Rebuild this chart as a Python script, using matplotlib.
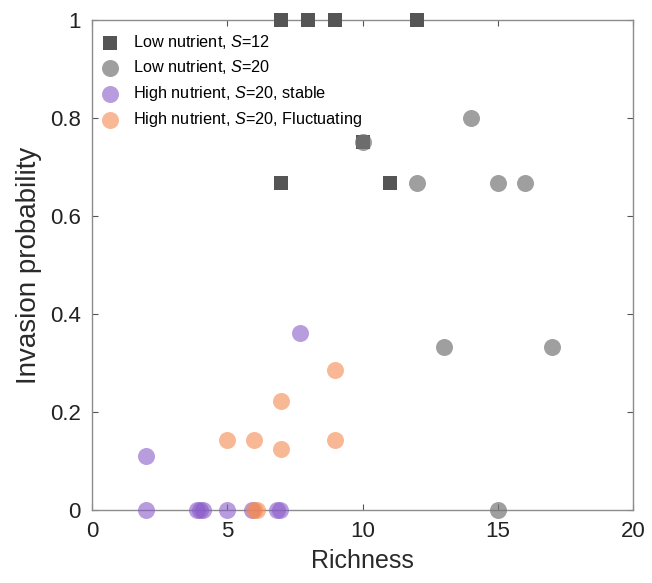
import matplotlib
matplotlib.use("Agg")
import matplotlib.pyplot as plt

plt.rcParams['font.family'] = ['Liberation Sans', 'DejaVu Sans']
plt.rcParams['mathtext.fontset'] = 'custom'
plt.rcParams['mathtext.it'] = 'Liberation Sans:italic'
plt.rcParams['mathtext.rm'] = 'Liberation Sans'

# Low nutrient, S=12
low12_rich = [7, 8, 9, 12, 7, 10, 11]
low12_prob = [1.0, 1.0, 1.0, 1.0, 0.667, 0.75, 0.667]

# Low nutrient, S=20
low20_rich = [10, 12, 14, 15, 16, 13, 17, 15]
low20_prob = [0.75, 0.667, 0.8, 0.667, 0.667, 0.333, 0.333, 0.0]

# High nutrient, S=20, stable
stable_rich = [2, 2, 3.9, 4.0, 4.1, 5, 5.9, 6.85, 6.95, 7.7]
stable_prob = [0.111, 0.0, 0.0, 0.0, 0.0, 0.0, 0.0, 0.0, 0.0, 0.361]

# High nutrient, S=20, fluctuating
fluct_rich = [5, 6, 7, 7, 9, 9, 6.0, 6.1]
fluct_prob = [0.143, 0.143, 0.222, 0.125, 0.286, 0.143, 0.0, 0.0]

fig = plt.figure(figsize=(6.52, 5.83), dpi=100)
ax = fig.add_axes([0.141, 0.125, 0.830, 0.841])

ax.scatter(low12_rich, low12_prob, marker='s', s=88, color='#555555',
           linewidths=0, label=r'Low nutrient, $S$=12', zorder=3, clip_on=False)
ax.scatter(low20_rich, low20_prob, marker='o', s=150, color='#777777', alpha=0.7,
           linewidths=0, label=r'Low nutrient, $S$=20', zorder=4, clip_on=False)
ax.scatter(stable_rich, stable_prob, marker='o', s=150, color='#8a5cc9', alpha=0.6,
           linewidths=0, label=r'High nutrient, $S$=20, stable', zorder=4, clip_on=False)
ax.scatter(fluct_rich, fluct_prob, marker='o', s=150, color='#f5894f', alpha=0.6,
           linewidths=0, label=r'High nutrient, $S$=20, Fluctuating', zorder=5, clip_on=False)

ax.set_xlim(0, 20)
ax.set_ylim(0, 1)
ax.set_xticks([0, 5, 10, 15, 20])
ax.set_yticks([0, 0.2, 0.4, 0.6, 0.8, 1])
ax.set_yticklabels(['0', '0.2', '0.4', '0.6', '0.8', '1'])

for sp in ax.spines.values():
    sp.set_color('#8c8c8c')
    sp.set_linewidth(1.0)
ax.tick_params(direction='in', length=4, width=0.8, color='#555555',
               labelsize=16, labelcolor='#222222', top=True, right=True, pad=8)

ax.set_xlabel('Richness', fontsize=18, color='#2a2a2a', labelpad=5)
ax.set_ylabel('Invasion probability', fontsize=20, color='#2a2a2a', labelpad=6)

leg = ax.legend(loc='upper left', frameon=False, fontsize=11.7, handletextpad=0.8,
                borderaxespad=0.1, labelspacing=0.46, handlelength=1.2,
                bbox_to_anchor=(0.0, 0.99))

fig.savefig('out.png', dpi=100)
